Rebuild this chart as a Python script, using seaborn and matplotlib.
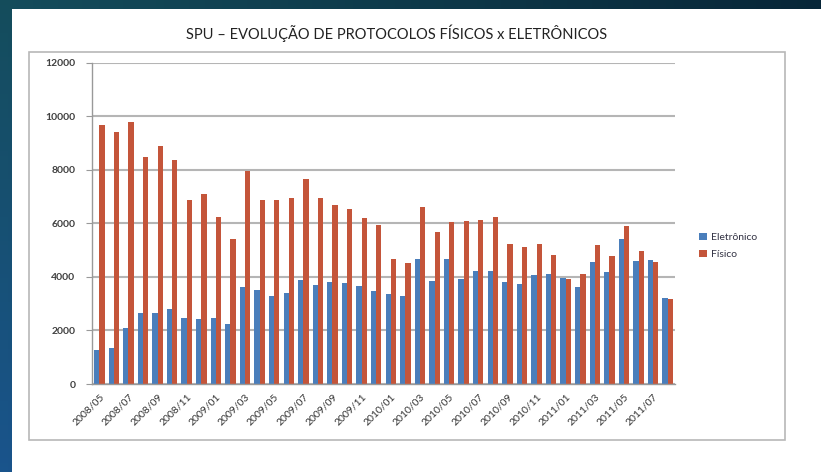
import numpy as np
import pandas as pd
import matplotlib
matplotlib.use("Agg")
import matplotlib.pyplot as plt
import seaborn as sns
from matplotlib.patches import Rectangle

months = ["2008/05", "2008/06", "2008/07", "2008/08", "2008/09", "2008/10", "2008/11", "2008/12",
          "2009/01", "2009/02", "2009/03", "2009/04", "2009/05", "2009/06", "2009/07", "2009/08",
          "2009/09", "2009/10", "2009/11", "2009/12", "2010/01", "2010/02", "2010/03", "2010/04",
          "2010/05", "2010/06", "2010/07", "2010/08", "2010/09", "2010/10", "2010/11", "2010/12",
          "2011/01", "2011/02", "2011/03", "2011/04", "2011/05", "2011/06", "2011/07", "2011/08"]

eletronico = [1280, 1340, 2100, 2640, 2640, 2790, 2450, 2410, 2450, 2250, 3630, 3510, 3300, 3390,
              3880, 3680, 3820, 3770, 3650, 3460, 3360, 3270, 4680, 3830, 4655, 3930, 4220, 4230,
              3800, 3730, 4070, 4110, 3970, 3630, 4570, 4170, 5400, 4600, 4640, 3210]

fisico = [9660, 9400, 9770, 8460, 8890, 8380, 6880, 7080, 6240, 5400, 7950, 6880, 6880, 6945,
          7650, 6930, 6680, 6550, 6210, 5920, 4650, 4510, 6610, 5690, 6040, 6090, 6140, 6220,
          5230, 5130, 5215, 4830, 3910, 4110, 5180, 4780, 5890, 4980, 4570, 3170]

series_names = ["Eletrônico", "Físico"]
colors = ["#4a7ebb", "#c4553a"]

df = pd.DataFrame({
    "mes": months * 2,
    "valor": eletronico + fisico,
    "serie": [series_names[0]] * len(months) + [series_names[1]] * len(months),
})

sns.set_style("white")
plt.rcParams["font.family"] = ["Lato", "DejaVu Sans"]

W, H = 821, 472
fig = plt.figure(figsize=(W / 100, H / 100), dpi=100)

# slide background gradient
bg = fig.add_axes([0, 0, 1, 1], zorder=-10)
grad = np.zeros((100, 100, 3))
yy = np.linspace(0, 1, 100)[:, None]
xx = np.linspace(0, 1, 100)[None, :]
top = np.array([0.08, 0.30, 0.36])
bot = np.array([0.10, 0.33, 0.55])
right = np.array([0.03, 0.15, 0.22])
for c in range(3):
    grad[:, :, c] = (top[c] * (1 - yy) + bot[c] * yy) * (1 - xx) + right[c] * xx
bg.imshow(grad, aspect="auto", extent=[0, 1, 0, 1])
bg.set_xlim(0, 1)
bg.set_ylim(0, 1)
bg.axis("off")
bg.add_patch(Rectangle((12 / W, 0), 1, 1 - 9 / H, facecolor="white", edgecolor="none",
                       transform=bg.transAxes, zorder=2))
bg.add_patch(Rectangle((29 / W, 1 - 440 / H), (785 - 29) / W, (440 - 52) / H, facecolor="white",
                       edgecolor="#b8b8b8", linewidth=1.2, transform=bg.transAxes, zorder=3))

ax = fig.add_axes([92 / W, 1 - 384 / H, (675 - 92) / W, (384 - 62.7) / H])
ax.set_facecolor("white")

sns.barplot(data=df, x="mes", y="valor", hue="serie", palette=colors, width=0.72,
            ax=ax, dodge=True, saturation=1, legend=True, linewidth=0)

ax.set_ylim(0, 12000)
ax.set_xlim(-0.5, len(months) - 0.5)
ax.set_yticks(np.arange(0, 12001, 2000))
ax.set_yticklabels([str(v) for v in range(0, 12001, 2000)], fontsize=7.5, color="#404040",
                   fontweight="bold")
ax.grid(axis="y", color="#b5b5b5", linewidth=1.5)
ax.set_axisbelow(True)

ticks = list(range(0, len(months), 2))
ax.set_xticks(ticks)
ax.set_xticklabels([months[i] for i in ticks], rotation=45, ha="right", rotation_mode="anchor",
                   fontsize=7.5, color="#333333")
ax.set_xticks(np.arange(-0.5, len(months), 1), minor=True)
ax.tick_params(axis="x", which="major", length=0, pad=6)
ax.tick_params(axis="x", which="minor", length=3, color="#999999", width=0.8)
ax.tick_params(axis="y", length=4, color="#999999", width=0.8, left=True, pad=8)
ax.set_xlabel("")
ax.set_ylabel("")
for s in ["top", "right"]:
    ax.spines[s].set_visible(False)
for s in ["left", "bottom"]:
    ax.spines[s].set_color("#999999")
    ax.spines[s].set_linewidth(1.0)

leg = ax.legend(loc="center left", bbox_to_anchor=(690 / W, 1 - 246 / H),
                bbox_transform=fig.transFigure, frameon=False, fontsize=7.5,
                handlelength=0.7, handleheight=0.7, handletextpad=0.4, labelspacing=0.8)
for t in leg.get_texts():
    t.set_color("#333344")

fig.text(397 / W, 1 - 33 / H, "SPU – EVOLUÇÃO DE PROTOCOLOS FÍSICOS x ELETRÔNICOS",
         ha="center", va="center", fontsize=10.5, color="#222222")

fig.savefig("out.png", dpi=100)
